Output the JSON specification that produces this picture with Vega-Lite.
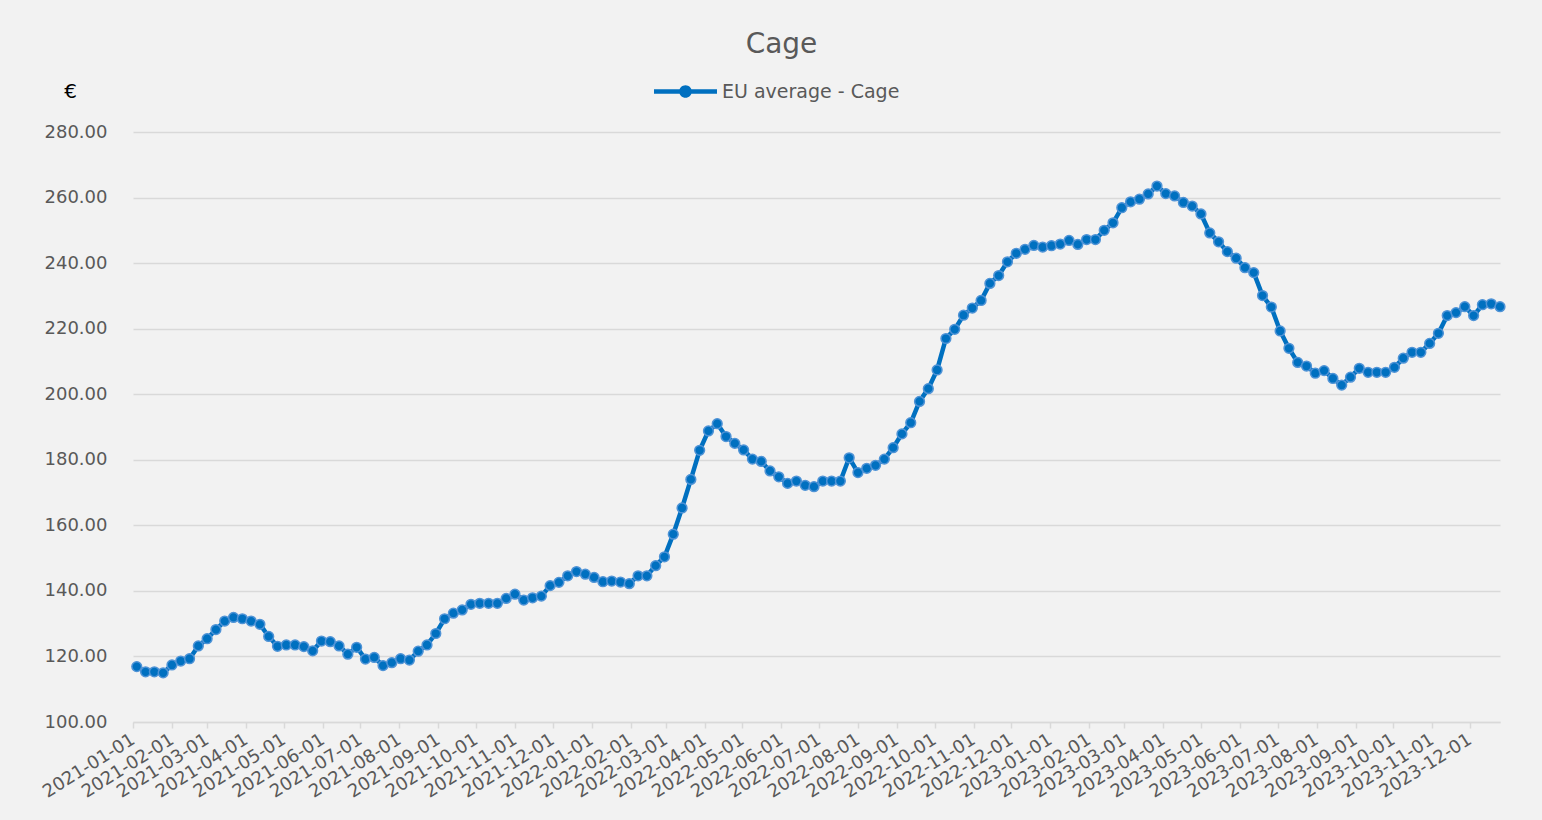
{
  "$schema": "https://vega.github.io/schema/vega-lite/v6.json",
  "width": 1367,
  "height": 590,
  "autosize": {"type": "none"},
  "padding": {"left": 133, "top": 132, "right": 42, "bottom": 98},
  "background": "#f2f2f2",
  "config": {"view": {"stroke": null}, "font": "DejaVu Sans"},
  "title": {"text": "Cage", "fontSize": 28, "font": "DejaVu Sans", "fontWeight": "normal", "color": "#595959", "anchor": "middle", "dx": -35, "dy": 28, "offset": 7, "baseline": "alphabetic"},
  "data": {"values": [
    {"date": "2021-01-04", "price": 116.9, "series": "EU average - Cage"},
    {"date": "2021-01-11", "price": 115.3, "series": "EU average - Cage"},
    {"date": "2021-01-18", "price": 115.3, "series": "EU average - Cage"},
    {"date": "2021-01-25", "price": 115.0, "series": "EU average - Cage"},
    {"date": "2021-02-01", "price": 117.4, "series": "EU average - Cage"},
    {"date": "2021-02-08", "price": 118.6, "series": "EU average - Cage"},
    {"date": "2021-02-15", "price": 119.3, "series": "EU average - Cage"},
    {"date": "2021-02-22", "price": 123.2, "series": "EU average - Cage"},
    {"date": "2021-03-01", "price": 125.4, "series": "EU average - Cage"},
    {"date": "2021-03-08", "price": 128.2, "series": "EU average - Cage"},
    {"date": "2021-03-15", "price": 130.8, "series": "EU average - Cage"},
    {"date": "2021-03-22", "price": 131.9, "series": "EU average - Cage"},
    {"date": "2021-03-29", "price": 131.5, "series": "EU average - Cage"},
    {"date": "2021-04-05", "price": 130.8, "series": "EU average - Cage"},
    {"date": "2021-04-12", "price": 129.8, "series": "EU average - Cage"},
    {"date": "2021-04-19", "price": 126.1, "series": "EU average - Cage"},
    {"date": "2021-04-26", "price": 123.1, "series": "EU average - Cage"},
    {"date": "2021-05-03", "price": 123.5, "series": "EU average - Cage"},
    {"date": "2021-05-10", "price": 123.5, "series": "EU average - Cage"},
    {"date": "2021-05-17", "price": 123.0, "series": "EU average - Cage"},
    {"date": "2021-05-24", "price": 121.7, "series": "EU average - Cage"},
    {"date": "2021-05-31", "price": 124.7, "series": "EU average - Cage"},
    {"date": "2021-06-07", "price": 124.5, "series": "EU average - Cage"},
    {"date": "2021-06-14", "price": 123.2, "series": "EU average - Cage"},
    {"date": "2021-06-21", "price": 120.7, "series": "EU average - Cage"},
    {"date": "2021-06-28", "price": 122.8, "series": "EU average - Cage"},
    {"date": "2021-07-05", "price": 119.2, "series": "EU average - Cage"},
    {"date": "2021-07-12", "price": 119.7, "series": "EU average - Cage"},
    {"date": "2021-07-19", "price": 117.2, "series": "EU average - Cage"},
    {"date": "2021-07-26", "price": 118.1, "series": "EU average - Cage"},
    {"date": "2021-08-02", "price": 119.3, "series": "EU average - Cage"},
    {"date": "2021-08-09", "price": 118.9, "series": "EU average - Cage"},
    {"date": "2021-08-16", "price": 121.6, "series": "EU average - Cage"},
    {"date": "2021-08-23", "price": 123.5, "series": "EU average - Cage"},
    {"date": "2021-08-30", "price": 127.0, "series": "EU average - Cage"},
    {"date": "2021-09-06", "price": 131.5, "series": "EU average - Cage"},
    {"date": "2021-09-13", "price": 133.2, "series": "EU average - Cage"},
    {"date": "2021-09-20", "price": 134.2, "series": "EU average - Cage"},
    {"date": "2021-09-27", "price": 135.9, "series": "EU average - Cage"},
    {"date": "2021-10-04", "price": 136.2, "series": "EU average - Cage"},
    {"date": "2021-10-11", "price": 136.2, "series": "EU average - Cage"},
    {"date": "2021-10-18", "price": 136.2, "series": "EU average - Cage"},
    {"date": "2021-10-25", "price": 137.7, "series": "EU average - Cage"},
    {"date": "2021-11-01", "price": 139.0, "series": "EU average - Cage"},
    {"date": "2021-11-08", "price": 137.2, "series": "EU average - Cage"},
    {"date": "2021-11-15", "price": 137.9, "series": "EU average - Cage"},
    {"date": "2021-11-22", "price": 138.4, "series": "EU average - Cage"},
    {"date": "2021-11-29", "price": 141.6, "series": "EU average - Cage"},
    {"date": "2021-12-06", "price": 142.6, "series": "EU average - Cage"},
    {"date": "2021-12-13", "price": 144.6, "series": "EU average - Cage"},
    {"date": "2021-12-20", "price": 145.9, "series": "EU average - Cage"},
    {"date": "2021-12-27", "price": 145.1, "series": "EU average - Cage"},
    {"date": "2022-01-03", "price": 144.1, "series": "EU average - Cage"},
    {"date": "2022-01-10", "price": 142.8, "series": "EU average - Cage"},
    {"date": "2022-01-17", "price": 143.0, "series": "EU average - Cage"},
    {"date": "2022-01-24", "price": 142.7, "series": "EU average - Cage"},
    {"date": "2022-01-31", "price": 142.2, "series": "EU average - Cage"},
    {"date": "2022-02-07", "price": 144.6, "series": "EU average - Cage"},
    {"date": "2022-02-14", "price": 144.6, "series": "EU average - Cage"},
    {"date": "2022-02-21", "price": 147.7, "series": "EU average - Cage"},
    {"date": "2022-02-28", "price": 150.4, "series": "EU average - Cage"},
    {"date": "2022-03-07", "price": 157.3, "series": "EU average - Cage"},
    {"date": "2022-03-14", "price": 165.3, "series": "EU average - Cage"},
    {"date": "2022-03-21", "price": 174.0, "series": "EU average - Cage"},
    {"date": "2022-03-28", "price": 182.9, "series": "EU average - Cage"},
    {"date": "2022-04-04", "price": 188.8, "series": "EU average - Cage"},
    {"date": "2022-04-11", "price": 191.0, "series": "EU average - Cage"},
    {"date": "2022-04-18", "price": 187.1, "series": "EU average - Cage"},
    {"date": "2022-04-25", "price": 185.0, "series": "EU average - Cage"},
    {"date": "2022-05-02", "price": 183.0, "series": "EU average - Cage"},
    {"date": "2022-05-09", "price": 180.2, "series": "EU average - Cage"},
    {"date": "2022-05-16", "price": 179.5, "series": "EU average - Cage"},
    {"date": "2022-05-23", "price": 176.6, "series": "EU average - Cage"},
    {"date": "2022-05-30", "price": 174.8, "series": "EU average - Cage"},
    {"date": "2022-06-06", "price": 172.8, "series": "EU average - Cage"},
    {"date": "2022-06-13", "price": 173.5, "series": "EU average - Cage"},
    {"date": "2022-06-20", "price": 172.2, "series": "EU average - Cage"},
    {"date": "2022-06-27", "price": 171.8, "series": "EU average - Cage"},
    {"date": "2022-07-04", "price": 173.5, "series": "EU average - Cage"},
    {"date": "2022-07-11", "price": 173.5, "series": "EU average - Cage"},
    {"date": "2022-07-18", "price": 173.5, "series": "EU average - Cage"},
    {"date": "2022-07-25", "price": 180.6, "series": "EU average - Cage"},
    {"date": "2022-08-01", "price": 176.1, "series": "EU average - Cage"},
    {"date": "2022-08-08", "price": 177.4, "series": "EU average - Cage"},
    {"date": "2022-08-15", "price": 178.3, "series": "EU average - Cage"},
    {"date": "2022-08-22", "price": 180.2, "series": "EU average - Cage"},
    {"date": "2022-08-29", "price": 183.7, "series": "EU average - Cage"},
    {"date": "2022-09-05", "price": 187.9, "series": "EU average - Cage"},
    {"date": "2022-09-12", "price": 191.3, "series": "EU average - Cage"},
    {"date": "2022-09-19", "price": 197.8, "series": "EU average - Cage"},
    {"date": "2022-09-26", "price": 201.7, "series": "EU average - Cage"},
    {"date": "2022-10-03", "price": 207.4, "series": "EU average - Cage"},
    {"date": "2022-10-10", "price": 217.0, "series": "EU average - Cage"},
    {"date": "2022-10-17", "price": 219.8, "series": "EU average - Cage"},
    {"date": "2022-10-24", "price": 224.1, "series": "EU average - Cage"},
    {"date": "2022-10-31", "price": 226.3, "series": "EU average - Cage"},
    {"date": "2022-11-07", "price": 228.6, "series": "EU average - Cage"},
    {"date": "2022-11-14", "price": 233.8, "series": "EU average - Cage"},
    {"date": "2022-11-21", "price": 236.2, "series": "EU average - Cage"},
    {"date": "2022-11-28", "price": 240.4, "series": "EU average - Cage"},
    {"date": "2022-12-05", "price": 243.0, "series": "EU average - Cage"},
    {"date": "2022-12-12", "price": 244.2, "series": "EU average - Cage"},
    {"date": "2022-12-19", "price": 245.4, "series": "EU average - Cage"},
    {"date": "2022-12-26", "price": 244.9, "series": "EU average - Cage"},
    {"date": "2023-01-02", "price": 245.3, "series": "EU average - Cage"},
    {"date": "2023-01-09", "price": 245.8, "series": "EU average - Cage"},
    {"date": "2023-01-16", "price": 246.9, "series": "EU average - Cage"},
    {"date": "2023-01-23", "price": 245.7, "series": "EU average - Cage"},
    {"date": "2023-01-30", "price": 247.2, "series": "EU average - Cage"},
    {"date": "2023-02-06", "price": 247.2, "series": "EU average - Cage"},
    {"date": "2023-02-13", "price": 250.0, "series": "EU average - Cage"},
    {"date": "2023-02-20", "price": 252.3, "series": "EU average - Cage"},
    {"date": "2023-02-27", "price": 256.9, "series": "EU average - Cage"},
    {"date": "2023-03-06", "price": 258.7, "series": "EU average - Cage"},
    {"date": "2023-03-13", "price": 259.5, "series": "EU average - Cage"},
    {"date": "2023-03-20", "price": 261.1, "series": "EU average - Cage"},
    {"date": "2023-03-27", "price": 263.5, "series": "EU average - Cage"},
    {"date": "2023-04-03", "price": 261.2, "series": "EU average - Cage"},
    {"date": "2023-04-10", "price": 260.5, "series": "EU average - Cage"},
    {"date": "2023-04-17", "price": 258.5, "series": "EU average - Cage"},
    {"date": "2023-04-24", "price": 257.4, "series": "EU average - Cage"},
    {"date": "2023-05-01", "price": 255.0, "series": "EU average - Cage"},
    {"date": "2023-05-08", "price": 249.2, "series": "EU average - Cage"},
    {"date": "2023-05-15", "price": 246.5, "series": "EU average - Cage"},
    {"date": "2023-05-22", "price": 243.5, "series": "EU average - Cage"},
    {"date": "2023-05-29", "price": 241.5, "series": "EU average - Cage"},
    {"date": "2023-06-05", "price": 238.6, "series": "EU average - Cage"},
    {"date": "2023-06-12", "price": 237.1, "series": "EU average - Cage"},
    {"date": "2023-06-19", "price": 230.1, "series": "EU average - Cage"},
    {"date": "2023-06-26", "price": 226.6, "series": "EU average - Cage"},
    {"date": "2023-07-03", "price": 219.3, "series": "EU average - Cage"},
    {"date": "2023-07-10", "price": 214.0, "series": "EU average - Cage"},
    {"date": "2023-07-17", "price": 209.7, "series": "EU average - Cage"},
    {"date": "2023-07-24", "price": 208.6, "series": "EU average - Cage"},
    {"date": "2023-07-31", "price": 206.4, "series": "EU average - Cage"},
    {"date": "2023-08-07", "price": 207.2, "series": "EU average - Cage"},
    {"date": "2023-08-14", "price": 204.8, "series": "EU average - Cage"},
    {"date": "2023-08-21", "price": 202.8, "series": "EU average - Cage"},
    {"date": "2023-08-28", "price": 205.2, "series": "EU average - Cage"},
    {"date": "2023-09-04", "price": 207.9, "series": "EU average - Cage"},
    {"date": "2023-09-11", "price": 206.7, "series": "EU average - Cage"},
    {"date": "2023-09-18", "price": 206.7, "series": "EU average - Cage"},
    {"date": "2023-09-25", "price": 206.7, "series": "EU average - Cage"},
    {"date": "2023-10-02", "price": 208.2, "series": "EU average - Cage"},
    {"date": "2023-10-09", "price": 211.0, "series": "EU average - Cage"},
    {"date": "2023-10-16", "price": 212.8, "series": "EU average - Cage"},
    {"date": "2023-10-23", "price": 212.8, "series": "EU average - Cage"},
    {"date": "2023-10-30", "price": 215.5, "series": "EU average - Cage"},
    {"date": "2023-11-06", "price": 218.6, "series": "EU average - Cage"},
    {"date": "2023-11-13", "price": 224.0, "series": "EU average - Cage"},
    {"date": "2023-11-20", "price": 224.9, "series": "EU average - Cage"},
    {"date": "2023-11-27", "price": 226.7, "series": "EU average - Cage"},
    {"date": "2023-12-04", "price": 224.0, "series": "EU average - Cage"},
    {"date": "2023-12-11", "price": 227.3, "series": "EU average - Cage"},
    {"date": "2023-12-18", "price": 227.6, "series": "EU average - Cage"},
    {"date": "2023-12-25", "price": 226.7, "series": "EU average - Cage"}
  ]},
  "encoding": {
    "x": {
      "field": "date", "type": "temporal",
      "scale": {"domain": [{"year": 2021, "month": 1, "date": 1}, {"year": 2023, "month": 12, "date": 25}]},
      "axis": {
        "title": null, "format": "%Y-%m-%d", "tickCount": {"interval": "month", "step": 1},
        "labelAngle": -32, "labelAlign": "right", "labelBaseline": "middle",
        "labelFontSize": 18, "labelFont": "DejaVu Sans", "labelColor": "#595959", "labelPadding": 10,
        "labelOverlap": false, "labelBound": false, "labelFlush": false,
        "grid": false, "domainColor": "#d9d9d9", "domainWidth": 1.5,
        "tickColor": "#d9d9d9", "tickSize": 6, "tickWidth": 1.5
      }
    },
    "y": {
      "field": "price", "type": "quantitative",
      "scale": {"domain": [100, 280]},
      "axis": {
        "title": "€", "titleAngle": 0, "titleX": -63, "titleY": -41, "titleAlign": "center", "titleBaseline": "middle",
        "titleFontSize": 20, "titleFontWeight": "normal", "titleColor": "#000000", "titleFont": "DejaVu Sans",
        "values": [100, 120, 140, 160, 180, 200, 220, 240, 260, 280], "format": ".2f",
        "labelFontSize": 18, "labelFont": "DejaVu Sans", "labelColor": "#595959", "labelPadding": 26,
        "domain": false, "ticks": false, "grid": true, "gridColor": "#d9d9d9", "gridWidth": 1.5
      }
    },
    "color": {
      "field": "series", "type": "nominal",
      "scale": {"range": ["#0070c0"]},
      "legend": {
        "title": null, "orient": "none", "legendX": 521, "legendY": -72, "padding": 0,
        "symbolType": "M-1,-0.07H-0.17V0.07H-1Z M0.17,-0.07H1V0.07H0.17Z M0.2,0A0.2,0.2 0 1,1 -0.2,0A0.2,0.2 0 1,1 0.2,0Z",
        "symbolSize": 3969, "symbolStrokeWidth": 0,
        "labelFontSize": 19, "labelFont": "DejaVu Sans", "labelColor": "#595959", "labelOffset": 5, "labelLimit": 400,
        "encode": {"symbols": {"update": {"strokeWidth": {"value": 0}, "fill": {"value": "#0070c0"}, "opacity": {"value": 1}}}}
      }
    }
  },
  "layer": [
    {"mark": {"type": "line", "strokeWidth": 4.5}},
    {"mark": {"type": "point", "filled": true, "size": 95, "stroke": "#4f93d6", "strokeWidth": 1.5, "opacity": 1}}
  ]
}
